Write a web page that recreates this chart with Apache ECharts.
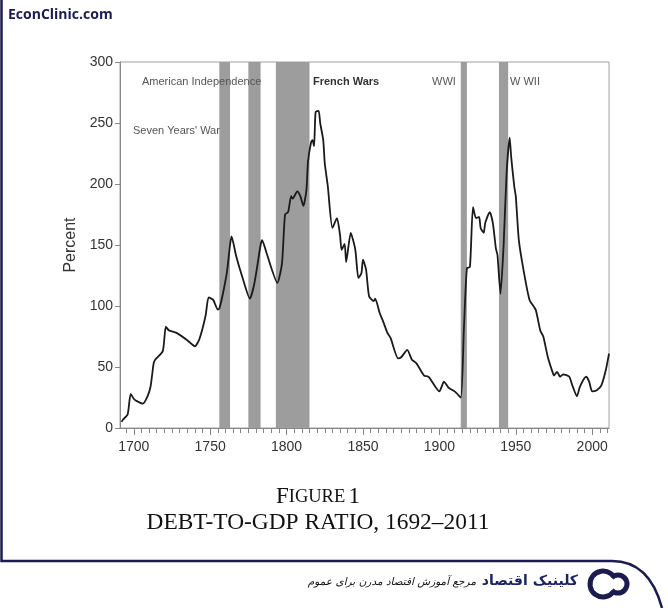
<!DOCTYPE html>
<html><head><meta charset="utf-8">
<script src="https://cdn.jsdelivr.net/npm/echarts@6/dist/echarts.min.js"></script>
<style>html,body{margin:0;padding:0;background:#fff}#c{width:668px;height:608px}</style>
</head><body><div id="c"></div>
<script>
// Debt-to-GDP ratio (percent)
const years = [1692,1693,1696,1698,1700,1702,1706,1709,1711,1713,1714,1719,1721,1723,1728,1735,1740,1743,1747,1749,1752,1755,1756,1758,1761,1763,1764,1767,1771,1776,1779,1783,1784,1787,1794,1797,1799,1801,1803,1804,1807,1809,1811,1813,1814,1816,1817,1818,1819,1821,1822,1824,1825,1827,1830,1833,1835,1836,1838,1839,1842,1845,1847,1849,1850,1852,1854,1857,1858,1861,1863,1866,1868,1873,1875,1879,1882,1885,1890,1893,1900,1903,1906,1910,1914,1916,1918,1920,1922,1924,1926,1927,1929,1930,1933,1935,1937,1938,1940,1942,1944,1946,1947,1949,1950,1952,1955,1959,1963,1966,1968,1971,1974,1975,1977,1979,1981,1985,1987,1990,1992,1996,1998,2000,2003,2006,2009,2011];
const ratio = [5,7,11,28,24,22,20,26,34,53,56,63,83,80,78,72,67,73,92,107,105,97,98,108,128,150,157,141,124,106,119,150,154,143,119,135,175,177,190,188,194,190,182,195,218,234,236,231,259,260,250,236,217,198,164,172,158,146,151,136,160,146,123,127,138,130,108,104,106,94,88,78,74,57,58,64,56,53,43,42,30,38,33,30,25,80,131,132,181,172,173,164,160,168,177,168,147,142,110,149,209,238,222,198,190,154,130,105,97,80,75,58,46,43,46,42,44,42,35,26,34,42,38,30,31,35,48,61];

const warStart = [1756, 1775, 1793, 1914, 1939];
const warEnd   = [1763, 1783, 1815, 1918, 1945];
const warNames = ["Seven Years' War", 'American Independence', 'French Wars', 'WWI', 'W WII'];

const yTicks = [0, 50, 100, 150, 200, 250, 300];
const xLabelYears = [1700, 1750, 1800, 1850, 1900, 1950, 2000];
const xMinorYears = [];
for (let y = 1695; y <= 2010; y += 5) xMinorYears.push(y);

const axisFont = "'Liberation Sans', Arial, sans-serif";
const serif = "'Liberation Serif', 'Times New Roman', serif";
const navy = '#1c1b4d';

const chart = echarts.init(document.getElementById('c'), null, {renderer: 'canvas'});

const annStyle = {fill: '#555', fontSize: 11, fontFamily: "'Liberation Sans', Arial, sans-serif"};

chart.setOption({
  animation: false,
  backgroundColor: '#fff',
  grid: {left: 120, right: 59, top: 62, bottom: 180, show: true, borderColor: '#a0a0a0', borderWidth: 1, containLabel: false},
  xAxis: [{
    type: 'value', min: 1691, max: 2011,
    axisLine: {show: true, lineStyle: {color: '#888', width: 1}},
    axisTick: {show: true, customValues: xMinorYears, length: 5, lineStyle: {color: '#888'}},
    axisLabel: {customValues: xLabelYears, fontSize: 14, color: '#333', margin: 12, fontFamily: axisFont, formatter: v => String(v)},
    splitLine: {show: false}
  }, {
    type: 'value', min: 1691, max: 2011, position: 'bottom',
    axisLine: {show: false},
    axisTick: {show: true, customValues: xLabelYears, length: 7, lineStyle: {color: '#888'}},
    axisLabel: {show: false},
    splitLine: {show: false}
  }],
  yAxis: {
    type: 'value', min: 0, max: 300, interval: 50,
    axisLine: {show: true, lineStyle: {color: '#888', width: 1}},
    axisTick: {show: true, length: 5, lineStyle: {color: '#888'}},
    axisLabel: {fontSize: 14, color: '#333', margin: 7, fontFamily: axisFont},
    splitLine: {show: false},
    name: 'Percent', nameLocation: 'middle', nameGap: 41, nameRotate: 90,
    nameTextStyle: {fontSize: 16, color: '#333', fontFamily: axisFont}
  },
  series: [{
    type: 'line',
    data: years.map((y, i) => [y, ratio[i]]),
    symbol: 'none',
    smooth: 0.2,
    lineStyle: {color: '#1a1a1a', width: 1.8},
    z: 5,
    markArea: {
      silent: true,
      itemStyle: {color: '#9d9d9d'},
      data: warStart.map((s, i) => [{xAxis: s}, {xAxis: warEnd[i]}])
    }
  }],
  graphic: [
    // frame
    {type: 'polyline', shape: {points: [[1.5, 0], [1.5, 561], [612, 561]]}, style: {fill: null, stroke: navy, lineWidth: 2.5}, z: 10},
    {type: 'bezierCurve', shape: {x1: 612, y1: 561, cpx1: 638, cpy1: 561, cpx2: 654, cpy2: 578, x2: 662, y2: 608}, style: {fill: null, stroke: navy, lineWidth: 2.5}, z: 10},
    {type: 'text', left: 8, top: 8, style: {text: 'EconClinic.com', fill: navy, fontSize: 14, fontWeight: 'bold', fontFamily: "'Open Sans', 'Liberation Sans', sans-serif"}},
    // war annotations
    {type: 'text', x: 142, y: 82, style: Object.assign({text: warNames[1], textVerticalAlign: 'middle'}, annStyle), z: 20},
    {type: 'text', x: 133, y: 131, style: Object.assign({text: warNames[0], textVerticalAlign: 'middle'}, annStyle), z: 20},
    {type: 'text', x: 313, y: 82, style: Object.assign({}, annStyle, {text: warNames[2], textVerticalAlign: 'middle', fontWeight: 'bold', fill: '#333'}), z: 20},
    {type: 'text', x: 432, y: 82, style: Object.assign({text: warNames[3], textVerticalAlign: 'middle'}, annStyle), z: 20},
    {type: 'text', x: 510, y: 82, style: Object.assign({text: warNames[4], textVerticalAlign: 'middle'}, annStyle), z: 20},
    // figure titles
    {type: 'text', x: 318, y: 497, style: {
      text: '{big|F}{small|IGURE} {big|1}', textAlign: 'center', textVerticalAlign: 'middle',
      rich: {
        big: {fontSize: 23, fontFamily: serif, fill: '#111'},
        small: {fontSize: 18.5, fontFamily: serif, fill: '#111'}
      }}},
    {type: 'text', x: 318, y: 523, style: {text: 'DEBT-TO-GDP RATIO, 1692\u20132011', textAlign: 'center', textVerticalAlign: 'middle', fontSize: 23.4, fill: '#111', fontFamily: serif}},
    // footer
    {type: 'text', x: 578, y: 581, style: {text: 'کلینیک اقتصاد', textAlign: 'right', textVerticalAlign: 'middle', fontSize: 14, fontWeight: 'bold', fill: '#1d2360', fontFamily: "'DejaVu Sans', sans-serif"}},
    {type: 'text', x: 476, y: 582, style: {text: 'مرجع آموزش اقتصاد مدرن برای عموم', textAlign: 'right', textVerticalAlign: 'middle', fontSize: 10.5, fill: '#111', fontFamily: "'DejaVu Sans', sans-serif", fontStyle: 'italic'}},
    {type: 'arc', shape: {cx: 603, cy: 584, r: 13, startAngle: Math.PI * 0.2, endAngle: Math.PI * 1.8, clockwise: true}, style: {stroke: navy, lineWidth: 5, fill: null}},
    {type: 'arc', shape: {cx: 618, cy: 584, r: 9, startAngle: Math.PI * 1.25, endAngle: Math.PI * 0.75, clockwise: true}, style: {stroke: navy, lineWidth: 5, fill: null}}
  ]
});
</script>
</body></html>
